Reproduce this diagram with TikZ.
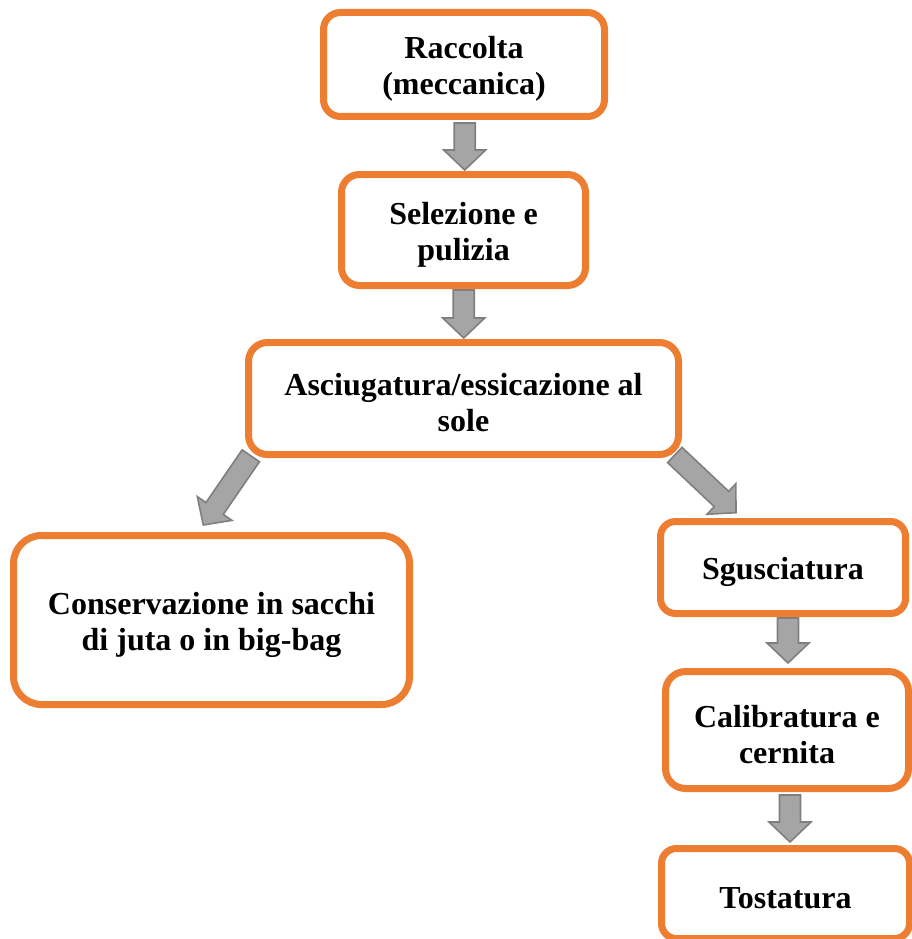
\documentclass[tikz,border=0pt]{standalone}
\usepackage{fontspec}
\setmainfont{Liberation Serif}
\usetikzlibrary{calc}
\definecolor{boxorange}{HTML}{ED7D31}
\definecolor{arrfill}{HTML}{A5A5A5}
\definecolor{arredge}{HTML}{7F7F7F}
\newcommand{\bigarrow}[2]{%
  \coordinate (hd) at ($(#2)!20pt!(#1)$);
  \draw[blockarrow] ($(#1)!10.5pt!90:(#2)$) -- ($(hd)!10.5pt!90:(#2)$) -- ($(hd)!21pt!90:(#2)$)
    -- (#2) -- ($(hd)!21pt!-90:(#2)$) -- ($(hd)!10.5pt!-90:(#2)$) -- ($(#1)!10.5pt!-90:(#2)$) -- cycle;}
\tikzset{
  stepbox/.style={draw=boxorange, line width=7pt, fill=white, rounded corners=#1,
    inner sep=0pt, outer sep=0pt},
  steptext/.style={align=center, inner sep=0pt, yshift=-4.5pt,
    font=\bfseries\fontsize{32}{36}\selectfont},
  blockarrow/.style={draw=arredge, fill=arrfill, line width=1.6pt, line join=miter}
}
\begin{document}
\begin{tikzpicture}[x=1pt,y=-1pt]
\useasboundingbox (0,0) rectangle (912,939);
% arrow coordinates
\coordinate (a1s) at (464.7,123);   \coordinate (a1t) at (464.7,170);
\coordinate (a2s) at (463.7,290);   \coordinate (a2t) at (463.7,338);
\coordinate (a3s) at (788,618);     \coordinate (a3t) at (788,663);
\coordinate (a4s) at (790,795);     \coordinate (a4t) at (790,842);
\coordinate (als) at (250.8,455.8); \coordinate (alt) at (203.3,525);
\coordinate (ars) at (674.8,455);   \coordinate (art) at (736,512.7);
\bigarrow{a1s}{a1t}
\bigarrow{a2s}{a2t}
\bigarrow{a3s}{a3t}
\bigarrow{a4s}{a4t}
\bigarrow{als}{alt}
\bigarrow{ars}{art}
% boxes
\node[stepbox=17pt, minimum width=281pt, minimum height=104pt] (b1) at (464,64.5) {};
\node[stepbox=18pt, minimum width=244pt, minimum height=111pt] (b2) at (463.5,230) {};
\node[stepbox=19pt, minimum width=430pt, minimum height=112pt] (b3) at (463.5,398.5) {};
\node[stepbox=28pt, minimum width=396pt, minimum height=169pt] (b4) at (211.5,620) {};
\node[stepbox=15pt, minimum width=245pt, minimum height=92pt] (b5) at (783,567.5) {};
\node[stepbox=20pt, minimum width=243pt, minimum height=117pt] (b6) at (787,730) {};
\node[stepbox=15pt, minimum width=248pt, minimum height=90pt] (b7) at (785.5,893.5) {};
% texts
\node[steptext] (t1) at (b1.center) {Raccolta\\(meccanica)};
\node[steptext] (t2) at (b2.center) {Selezione e\\pulizia};
\node[steptext] (t3) at (b3.center) {Asciugatura/essicazione al\\sole};
\node[steptext] (t4) at (b4.center) {Conservazione in sacchi\\di juta o in big-bag};
\node[steptext] (t5) at (b5.center) {Sgusciatura};
\node[steptext] (t6) at (b6.center) {Calibratura e\\cernita};
\node[steptext] (t7) at (b7.center) {Tostatura};
\end{tikzpicture}
\end{document}
